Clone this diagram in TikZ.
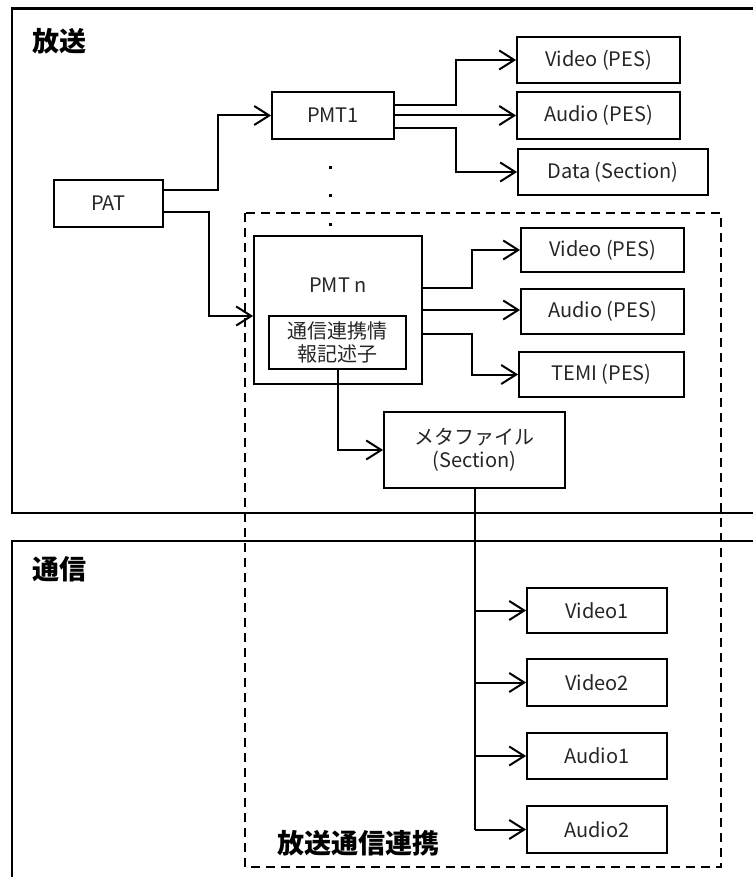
\documentclass[tikz,border=0pt]{standalone}
\usepackage{fontspec}
\setmainfont{Noto Sans CJK JP}
\usetikzlibrary{arrows.meta}
\begin{document}
\begin{tikzpicture}[x=1pt,y=-1pt,
  box/.style={draw,line width=1.8pt,rectangle,inner sep=0pt,align=center,
    text=black!85,font=\fontsize{20}{23}\selectfont},
  line/.style={draw,line width=2pt},
  arr/.style={line,-{Straight Barb[length=15pt,width=19pt]}},
  frame/.style={line width=2.2pt},
  dashbox/.style={line width=2pt,dash pattern=on 9pt off 6pt},
  biglabel/.style={font=\fontsize{27}{30}\selectfont\bfseries,inner sep=0pt}]
\useasboundingbox (0,0) rectangle (752,877);
% frames
\draw[frame] (770,8.5) -- (12,8.5) -- (12,513) -- (770,513);
\draw[frame] (770,541) -- (12,541) -- (12,890);
\node[biglabel] (lbcast) at (59,41) {放送};
\node[biglabel] (lcomm) at (59,569) {通信};
% dashed group
\draw[dashbox] (245,213) rectangle (721,867);
\node[biglabel] (lhyb) at (358,843) {放送通信連携};
% nodes
\node[box,minimum width=109pt,minimum height=47pt] (PAT) at (108.5,203.5) {PAT};
\node[box,minimum width=122pt,minimum height=47pt] (PMT1) at (333,115.5) {PMT1};
\node[box,minimum width=163pt,minimum height=46pt] (V1) at (598.5,60) {Video (PES)};
\node[box,minimum width=163pt,minimum height=47pt] (A1) at (598.5,115.5) {Audio (PES)};
\node[box,minimum width=190pt,minimum height=46pt] (D1) at (613,172) {Data (Section)};
\node[box,minimum width=168pt,minimum height=148pt] (PMTn) at (338,310) {};
\node[text=black!85,font=\fontsize{20}{23}\selectfont,inner sep=0pt] (PMTnl) at (338,285) {PMT n};
\node[box,minimum width=137pt,minimum height=53pt] (inner) at (337.5,342.5) {通信連携情\\報記述子};
\node[box,minimum width=163pt,minimum height=44pt] (V2) at (602.5,250) {Video (PES)};
\node[box,minimum width=163pt,minimum height=45pt] (A2) at (602.5,311.5) {Audio (PES)};
\node[box,minimum width=165pt,minimum height=45pt] (T2) at (601.5,374.5) {TEMI (PES)};
\node[box,minimum width=181pt,minimum height=76pt] (meta) at (474.5,450) {メタファイル\\(Section)};
\node[box,minimum width=140pt,minimum height=45pt] (Vid1) at (597,610.5) {Video1};
\node[box,minimum width=140pt,minimum height=47pt] (Vid2) at (597,682.5) {Video2};
\node[box,minimum width=140pt,minimum height=46pt] (Aud1) at (597,756) {Audio1};
\node[box,minimum width=140pt,minimum height=47pt] (Aud2) at (597,829.5) {Audio2};
% dots
\foreach \yy in {168,196,225} \fill (328.5,\yy-1.5) rectangle (331.5,\yy+1.5);
% connectors
\draw[arr] ([yshift=13.5pt]PAT.east) -- ++(54,0) |- (PMT1.west);
\draw[arr] ([yshift=-8.5pt]PAT.east) -- ++(45,0) |- ([yshift=-6pt]PMTn.west);
\draw[arr] ([yshift=10.5pt]PMT1.east) -- ++(61,0) |- (V1.west);
\draw[arr] (PMT1.east) -- (A1.west);
\draw[arr] ([yshift=-12.5pt]PMT1.east) -- ++(61,0) |- (D1.west);
\draw[arr] ([yshift=22pt]PMTn.east) -- ++(49,0) |- (V2.west);
\draw[arr] (PMTn.east) -- (PMTn.east -| A2.west);
\draw[arr] ([yshift=-24pt]PMTn.east) -- ++(49,0) |- (T2.west);
\draw[arr] (inner.south) |- (meta.west);
\draw[line] (meta.south) -- (meta.south |- Aud2.west);
\draw[arr] (meta.south |- Vid1.west) -- (Vid1.west);
\draw[arr] (meta.south |- Vid2.west) -- (Vid2.west);
\draw[arr] (meta.south |- Aud1.west) -- (Aud1.west);
\draw[arr] (meta.south |- Aud2.west) -- (Aud2.west);
\end{tikzpicture}
\end{document}
